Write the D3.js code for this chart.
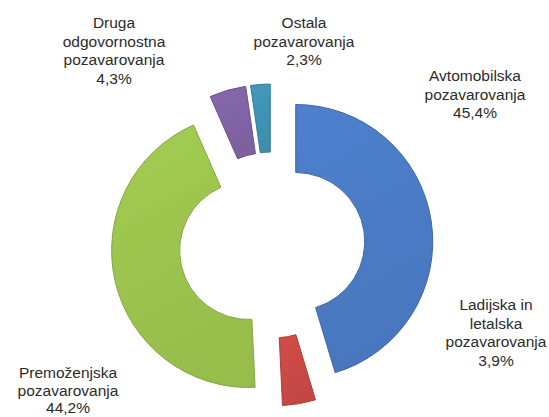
<!DOCTYPE html>
<html>
<head>
<meta charset="utf-8">
<script src="https://cdn.jsdelivr.net/npm/d3@7"></script>
<style>
  html, body { margin: 0; padding: 0; background: #ffffff; }
  svg { display: block; }
  .lbl text { font-family: "Liberation Sans", Arial, sans-serif; font-size: 15.5px; fill: #2b2b2b; }
</style>
</head>
<body>
<svg id="chart" width="549" height="417"></svg>
<script>
// Reinsurance premium structure by line of business (shares in %)
const categories = [
  "Avtomobilska pozavarovanja",
  "Ladijska in letalska pozavarovanja",
  "Premoženjska pozavarovanja",
  "Druga odgovornostna pozavarovanja",
  "Ostala pozavarovanja"
];
const categoryLines = [
  ["Avtomobilska", "pozavarovanja"],
  ["Ladijska in", "letalska", "pozavarovanja"],
  ["Premoženjska", "pozavarovanja"],
  ["Druga", "odgovornostna", "pozavarovanja"],
  ["Ostala", "pozavarovanja"]
];
const shares = [45.4, 3.9, 44.2, 4.3, 2.3];

// Layout
const cx = 272, cy = 245;
const outerR = 137, innerR = 69;
const explode = 24;
const lineH = 18.6;
// label anchors: centre x, first baseline y, line spacing
const labelAnchors = [
  [475, 81, lineH],
  [496, 310, lineH],
  [68, 378, 17.6],
  [114, 28, lineH],
  [304, 28, lineH]
];

const color = d3.scaleOrdinal()
  .domain(categories)
  .range(["#4b7bc5", "#c94a45", "#9cc44e", "#8064a6", "#3f93b5"]);

const fmtLocale = d3.formatLocale({ decimal: ",", thousands: ".", grouping: [3], currency: ["", " €"] });
const fmtPct = v => fmtLocale.format(".1f")(v) + "%";

const svg = d3.select("#chart");

const data = categories.map((c, i) => ({ name: c, lines: categoryLines[i], value: shares[i], anchor: labelAnchors[i] }));

const pie = d3.pie().sort(null).value(d => d.value).startAngle(0).endAngle(2 * Math.PI);
const arc = d3.arc().innerRadius(innerR).outerRadius(outerR);

const defs = svg.append("defs");
data.forEach((d, i) => {
  const base = d3.color(color(d.name));
  const g = defs.append("linearGradient")
    .attr("id", "grad" + i)
    .attr("x1", "0").attr("y1", "0").attr("x2", "0.3").attr("y2", "1");
  g.append("stop").attr("offset", "0%").attr("stop-color", base.brighter(0.12));
  g.append("stop").attr("offset", "100%").attr("stop-color", base.darker(0.1));
});

const ring = svg.append("g").attr("transform", `translate(${cx},${cy})`);

ring.selectAll("path.slice")
  .data(pie(data))
  .join("path")
  .attr("class", "slice")
  .attr("d", arc)
  .attr("transform", a => {
    const m = (a.startAngle + a.endAngle) / 2;
    return `translate(${Math.sin(m) * explode},${-Math.cos(m) * explode})`;
  })
  .attr("fill", (a, i) => `url(#grad${i})`)
  .attr("stroke", a => d3.color(color(a.data.name)).darker(0.5))
  .attr("stroke-width", 1)
  .attr("stroke-linejoin", "round");

const labels = svg.append("g").attr("class", "lbl")
  .selectAll("text")
  .data(data)
  .join("text")
  .attr("text-anchor", "middle")
  .attr("x", d => d.anchor[0])
  .attr("y", d => d.anchor[1]);

labels.each(function(d) {
  const t = d3.select(this);
  const rows = d.lines.concat([fmtPct(d.value)]);
  rows.forEach((r, k) => {
    t.append("tspan")
      .attr("x", d.anchor[0])
      .attr("y", d.anchor[1] + k * d.anchor[2])
      .text(r);
  });
});
</script>
</body>
</html>
